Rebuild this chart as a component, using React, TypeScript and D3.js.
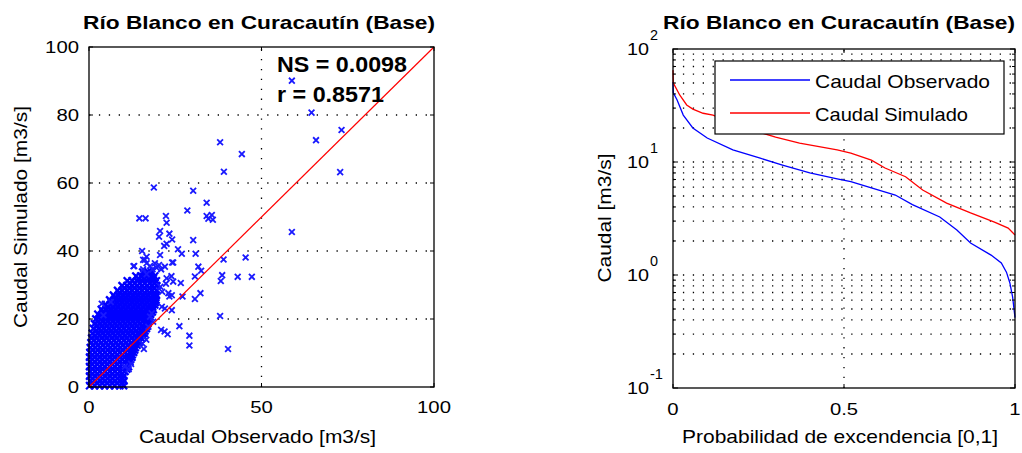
import React from "react";
import * as d3 from "d3";

const W = 1022;
const H = 453;

// ---------- text ----------
const titleText = "Río Blanco en Curacautín (Base)";
const nsText = "NS = 0.0098";
const rText = "r = 0.8571";
const leftXLabel = "Caudal Observado [m3/s]";
const leftYLabel = "Caudal Simulado [m3/s]";
const rightXLabel = "Probabilidad de excendencia [0,1]";
const rightYLabel = "Caudal [m3/s]";
const seriesNames = ["Caudal Observado", "Caudal Simulado"];

// ---------- ticks ----------
const leftXTicks = [0, 50, 100];
const leftYTicks = [0, 20, 40, 60, 80, 100];
const leftXGrid = [50];
const leftYGrid = [20, 40, 60, 80];
const rightXTicks = [0, 0.5, 1];
const rightXTickLabels = ["0", "0.5", "1"];
const rightYExp = [-1, 0, 1, 2];
const rightXGrid = [0.5];
const minorMult = [2, 3, 4, 5, 6, 7, 8, 9];
const decades = [0.1, 1, 10];

// ---------- scatter data (observed, simulated) ----------
// dense cloud, listed row by row: [simulated, observed values]
const scatterRows: [number, number[]][] = [
  [0.4, [0.2, 1.6, 3.1, 4.5, 6.0, 7.4, 8.9, 10.0]],
  [1.1, [0.9, 2.4, 3.8, 5.3, 6.7, 8.2, 9.6]],
  [1.8, [0.4, 1.8, 3.3, 4.7, 6.2, 7.6, 9.0, 10.1]],
  [2.5, [1.0, 2.5, 3.9, 5.4, 6.8, 8.3, 9.7]],
  [3.2, [0.2, 1.7, 3.1, 4.6, 6.0, 7.5, 8.9, 10.0]],
  [3.9, [0.9, 2.4, 3.8, 5.3, 6.7, 8.2, 9.6]],
  [4.6, [0.3, 1.8, 3.2, 4.7, 6.1, 7.6, 9.0, 10.4]],
  [5.3, [1.0, 2.5, 3.9, 5.4, 6.8, 8.3, 9.7, 10.9]],
  [6.0, [0.2, 1.6, 3.1, 4.5, 6.0, 7.4, 8.9, 10.3, 11.4]],
  [6.7, [0.9, 2.4, 3.8, 5.3, 6.7, 8.2, 9.6, 11.1]],
  [7.4, [0.3, 1.7, 3.2, 4.6, 6.1, 7.5, 9.0, 10.4, 11.8]],
  [8.1, [1.0, 2.5, 3.9, 5.4, 6.8, 8.3, 9.7, 11.1, 12.0]],
  [8.8, [0.2, 1.6, 3.1, 4.5, 6.0, 7.4, 8.9, 10.3, 11.7, 12.4]],
  [9.5, [0.9, 2.4, 3.8, 5.3, 6.7, 8.2, 9.6, 11.0, 12.5]],
  [10.2, [0.3, 1.8, 3.2, 4.7, 6.1, 7.6, 9.0, 10.5, 11.9, 12.9]],
  [10.9, [1.0, 2.5, 3.9, 5.4, 6.8, 8.3, 9.7, 11.2, 12.6, 13.2]],
  [11.6, [0.4, 1.9, 3.3, 4.8, 6.2, 7.7, 9.1, 10.6, 12.0, 13.4]],
  [12.3, [1.2, 2.6, 4.1, 5.5, 7.0, 8.4, 9.9, 11.3, 12.8, 13.9]],
  [13.0, [0.6, 2.0, 3.5, 4.9, 6.4, 7.8, 9.3, 10.7, 12.2, 13.6, 14.4]],
  [13.7, [1.4, 2.9, 4.3, 5.8, 7.2, 8.7, 10.1, 11.6, 13.0, 14.5]],
  [14.4, [0.8, 2.2, 3.7, 5.1, 6.6, 8.0, 9.5, 10.9, 12.4, 13.8, 15.1]],
  [15.1, [1.7, 3.1, 4.6, 6.0, 7.5, 8.9, 10.4, 11.8, 13.3, 14.7, 15.6]],
  [15.8, [1.0, 2.5, 3.9, 5.4, 6.8, 8.3, 9.7, 11.2, 12.6, 14.1, 15.5, 16.0]],
  [16.5, [2.0, 3.5, 4.9, 6.4, 7.8, 9.3, 10.7, 12.2, 13.6, 15.1, 16.2]],
  [17.2, [1.3, 2.8, 4.2, 5.7, 7.1, 8.6, 10.0, 11.5, 12.9, 14.4, 15.8, 16.6]],
  [17.9, [2.3, 3.8, 5.2, 6.7, 8.1, 9.6, 11.0, 12.5, 13.9, 15.4, 16.8]],
  [18.6, [1.6, 3.1, 4.5, 6.0, 7.4, 8.9, 10.3, 11.8, 13.2, 14.7, 16.1, 17.0]],
  [19.3, [2.7, 4.1, 5.6, 7.0, 8.5, 9.9, 11.4, 12.8, 14.3, 15.7, 17.1]],
  [20.0, [2.0, 3.4, 4.9, 6.3, 7.8, 9.2, 10.7, 12.1, 13.6, 15.0, 16.5, 17.4]],
  [20.7, [3.2, 4.7, 6.1, 7.6, 9.0, 10.5, 11.9, 13.4, 14.8, 16.3, 17.6]],
  [21.4, [2.6, 4.0, 5.5, 6.9, 8.4, 9.8, 11.3, 12.7, 14.2, 15.6, 17.1, 17.8]],
  [22.1, [4.1, 5.6, 7.0, 8.5, 9.9, 11.4, 12.8, 14.3, 15.7, 17.2, 18.3]],
  [22.8, [3.6, 5.0, 6.5, 7.9, 9.4, 10.8, 12.3, 13.7, 15.2, 16.6, 18.0, 18.6]],
  [23.5, [5.3, 6.8, 8.2, 9.7, 11.1, 12.6, 14.0, 15.5, 16.9, 18.4]],
  [24.2, [4.8, 6.2, 7.7, 9.1, 10.6, 12.0, 13.5, 14.9, 16.4, 17.8, 19.0]],
  [24.9, [6.5, 8.0, 9.4, 10.9, 12.3, 13.8, 15.2, 16.7, 18.1, 19.2]],
  [25.6, [6.0, 7.4, 8.9, 10.3, 11.8, 13.2, 14.7, 16.1, 17.6, 19.0, 19.4]],
  [26.3, [7.6, 9.1, 10.5, 12.0, 13.4, 14.9, 16.3, 17.8, 19.3]],
  [27.0, [7.1, 8.5, 10.0, 11.4, 12.9, 14.3, 15.8, 17.2, 18.7, 19.5]],
  [27.7, [8.8, 10.3, 11.7, 13.2, 14.6, 16.1, 17.5, 19.0]],
  [28.4, [8.3, 9.7, 11.2, 12.6, 14.1, 15.5, 17.0, 18.4, 19.6]],
  [29.1, [10.2, 11.7, 13.1, 14.6, 16.0, 17.5, 18.9]],
  [29.8, [9.6, 11.0, 12.5, 13.9, 15.4, 16.8, 18.3, 19.6]],
  [30.5, [11.9, 13.3, 14.8, 16.2, 17.7, 19.1]],
  [31.2, [11.1, 12.5, 14.0, 15.4, 16.9, 18.3, 19.5]],
  [31.9, [14.3, 15.8, 17.2, 18.6]],
  [32.6, [13.6, 15.0, 16.5, 17.9, 19.0]],
  [33.2, [16.3, 17.6]],
  [33.8, [15.6, 17.0, 18.1]],
];

const scatterOutliers: [number, number][] = [
  [58.8, 90.1], [64.5, 80.7], [73.2, 75.6], [65.8, 72.6], [38.0, 72.0], [44.3, 68.5],
  [39.1, 63.3], [72.8, 63.2], [18.8, 58.7], [30.2, 57.7], [34.1, 54.2], [28.5, 51.9],
  [34.1, 50.3], [35.6, 50.6], [35.9, 49.2], [34.6, 49.5], [14.6, 49.6], [16.4, 49.6],
  [22.3, 50.3], [22.5, 48.3], [20.6, 45.9], [20.3, 44.2], [23.3, 45.1], [24.1, 43.4],
  [22.5, 42.1], [21.8, 41.5], [30.2, 43.2], [25.8, 40.5], [26.9, 39.2], [15.4, 40.0],
  [16.7, 38.3], [30.9, 39.2], [20.6, 38.8], [39.0, 37.5], [45.4, 38.1], [24.4, 36.6],
  [31.7, 35.4], [32.5, 34.2], [38.6, 32.9], [38.2, 31.2], [43.1, 32.4], [47.2, 32.4],
  [30.7, 32.5], [26.6, 30.6], [27.1, 26.6], [32.3, 27.6], [30.7, 25.9], [23.3, 26.6],
  [24.0, 27.0], [38.0, 20.9], [58.8, 45.6], [26.2, 17.9], [20.9, 16.8], [21.9, 16.3],
  [22.8, 15.5], [29.1, 15.1], [29.1, 12.2], [40.3, 11.2], [15.9, 11.2], [15.5, 12.8],
  [16.6, 13.9], [3.7, 24.5], [6.3, 25.0], [4.2, 21.1], [12.9, 35.5], [15.7, 37.4],
  [16.7, 36.4], [17.7, 35.6], [18.4, 34.6], [19.6, 35.1], [20.9, 34.6], [22.0, 35.4],
  [20.3, 35.9], [22.5, 32.0], [23.9, 32.6], [24.4, 31.0], [22.3, 30.4], [15.7, 34.6],
  [16.7, 33.2], [13.1, 35.6], [16.2, 37.4], [19.1, 36.4], [24.1, 36.6], [18.2, 21.7],
  [17.7, 20.7], [18.6, 19.2], [17.2, 17.7], [21.1, 23.6], [22.0, 23.1], [24.0, 22.6],
  [23.0, 27.6], [10.4, 6.0], [11.5, 5.2], [12.2, 6.8], [20.7, 29.5], [21.2, 28.0],
];

// ---------- flow duration curves ----------
const obsProb = [0, 0.001, 0.012, 0.03, 0.058, 0.1, 0.175, 0.255, 0.32, 0.4, 0.48, 0.52, 0.58, 0.65, 0.7, 0.78, 0.83, 0.87, 0.93, 0.96, 0.975, 0.985, 0.993, 1.0];
const obsFlow = [51, 41, 35.4, 26, 20, 16.3, 12.8, 10.8, 9.4, 8.0, 7.1, 6.7, 5.9, 5.1, 4.2, 3.26, 2.5, 1.92, 1.5, 1.28, 1.06, 0.85, 0.64, 0.42];
const simProb = [0, 0.001, 0.02, 0.04, 0.058, 0.088, 0.117, 0.2, 0.3, 0.37, 0.48, 0.52, 0.58, 0.62, 0.68, 0.73, 0.8, 0.87, 0.94, 0.98, 1.0];
const simFlow = [65, 50, 39, 32, 29.4, 27, 26, 20.5, 16.6, 14.7, 12.8, 12, 10.4, 8.85, 7.4, 5.65, 4.33, 3.54, 2.94, 2.6, 2.26];

const FONT = "'Liberation Sans', Arial, Helvetica, sans-serif";

function Txt(props: {
  x: number; y: number; w?: number; size: number; bold?: boolean;
  anchor?: "start" | "middle" | "end"; rotate?: boolean; children: React.ReactNode;
}) {
  const { x, y, w, size, bold, anchor = "middle", rotate, children } = props;
  return (
    <text
      x={x}
      y={y}
      fontSize={size}
      fontWeight={bold ? "bold" : "normal"}
      textAnchor={anchor}
      fontFamily={FONT}
      fill="#000"
      textLength={w}
      lengthAdjust={w ? "spacingAndGlyphs" : undefined}
      transform={rotate ? `rotate(-90 ${x} ${y})` : undefined}
    >
      {children}
    </text>
  );
}

const digitW = (s: string) => {
  let w = 0;
  for (const c of s) w += c === "." ? 5.5 : c === "-" ? 6 : 11.3;
  return w;
};

const xMarker = (cx: number, cy: number, m: number) =>
  `M${cx - m},${cy - m}L${cx + m},${cy + m}M${cx - m},${cy + m}L${cx + m},${cy - m}`;

export default function App() {
  // left panel
  const L = { x0: 89, x1: 434, y0: 47, y1: 387 };
  const lx = d3.scaleLinear().domain([0, 100]).range([L.x0, L.x1]);
  const ly = d3.scaleLinear().domain([0, 100]).range([L.y1, L.y0]);

  // right panel
  const R = { x0: 673, x1: 1015, y0: 49, y1: 388 };
  const rx = d3.scaleLinear().domain([0, 1]).range([R.x0, R.x1]);
  const ry = d3.scaleLog().domain([0.1, 100]).range([R.y1, R.y0]);

  const cloud: [number, number][] = [];
  scatterRows.forEach(([yv, xs]) => xs.forEach((xv) => cloud.push([xv, yv])));

  const obsLine = d3.line<number>().x((_, i) => rx(obsProb[i])).y((d) => ry(d))(obsFlow) || "";
  const simLine = d3.line<number>().x((_, i) => rx(simProb[i])).y((d) => ry(d))(simFlow) || "";

  const minorVals: number[] = [];
  decades.forEach((d) => minorMult.forEach((m) => minorVals.push(d * m)));
  const majorVals = rightYExp.map((e) => Math.pow(10, e));

  const dash = "1.3,8.6";

  return (
    <svg
      width={W}
      height={H}
      viewBox={`0 0 ${W} ${H}`}
      style={{ position: "fixed", left: 0, top: 0, background: "#fff" }}
    >
      <rect x={0} y={0} width={W} height={H} fill="#fff" />

      {/* ================= LEFT PANEL ================= */}
      <rect x={L.x0} y={L.y0} width={L.x1 - L.x0} height={L.y1 - L.y0} fill="#fff" />
      {leftXGrid.map((v) => (
        <line key={"lxg" + v} x1={lx(v)} x2={lx(v)} y1={L.y1} y2={L.y0} stroke="#000" strokeWidth={1.3} strokeDasharray={dash} />
      ))}
      {leftYGrid.map((v) => (
        <line key={"lyg" + v} x1={L.x0} x2={L.x1} y1={ly(v)} y2={ly(v)} stroke="#000" strokeWidth={1.3} strokeDasharray={dash} />
      ))}
      <g stroke="#0000ff" strokeWidth={2.3} strokeLinecap="square">
        {cloud.map(([xv, yv], i) => (
          <path key={"c" + i} d={xMarker(lx(xv), ly(yv), 2.8)} />
        ))}
      </g>
      <g stroke="#1a1aff" strokeWidth={1.8}>
        {scatterOutliers.map(([xv, yv], i) => (
          <path key={"o" + i} d={xMarker(lx(xv), ly(yv), 2.9)} />
        ))}
      </g>
      <line x1={lx(0)} y1={ly(0)} x2={lx(100)} y2={ly(100)} stroke="#ff0000" strokeWidth={1.2} />
      {/* ticks */}
      {leftXTicks.map((v) => (
        <g key={"lxt" + v}>
          <line x1={lx(v)} x2={lx(v)} y1={L.y1} y2={L.y1 - 4} stroke="#000" />
          <line x1={lx(v)} x2={lx(v)} y1={L.y0} y2={L.y0 + 4} stroke="#000" />
          <Txt x={lx(v)} y={413} size={16} w={digitW(String(v))}>{String(v)}</Txt>
        </g>
      ))}
      {leftYTicks.map((v) => (
        <g key={"lyt" + v}>
          <line x1={L.x0} x2={L.x0 + 4} y1={ly(v)} y2={ly(v)} stroke="#000" />
          <line x1={L.x1} x2={L.x1 - 4} y1={ly(v)} y2={ly(v)} stroke="#000" />
          <Txt x={79} y={ly(v) + 6} size={16} anchor="end" w={digitW(String(v))}>{String(v)}</Txt>
        </g>
      ))}
      <rect x={L.x0} y={L.y0} width={L.x1 - L.x0} height={L.y1 - L.y0} fill="none" stroke="#000" strokeWidth={1.3} />
      <Txt x={277} y={72} size={22} bold anchor="start" w={130}>{nsText}</Txt>
      <Txt x={277} y={102} size={22} bold anchor="start" w={107}>{rText}</Txt>
      <Txt x={259} y={28.5} size={18.5} bold w={352}>{titleText}</Txt>
      <Txt x={257.5} y={442.5} size={19} w={237}>{leftXLabel}</Txt>
      <Txt x={27} y={217} size={19} w={222} rotate>{leftYLabel}</Txt>

      {/* ================= RIGHT PANEL ================= */}
      <rect x={R.x0} y={R.y0} width={R.x1 - R.x0} height={R.y1 - R.y0} fill="#fff" />
      {minorVals.map((v) => (
        <line key={"rmg" + v} x1={R.x0} x2={R.x1} y1={ry(v)} y2={ry(v)} stroke="#000" strokeWidth={1.3} strokeDasharray={dash} />
      ))}
      {majorVals.slice(1, 3).map((v) => (
        <line key={"rMg" + v} x1={R.x0} x2={R.x1} y1={ry(v)} y2={ry(v)} stroke="#000" strokeWidth={1.3} strokeDasharray={dash} />
      ))}
      {rightXGrid.map((v) => (
        <line key={"rxg" + v} x1={rx(v)} x2={rx(v)} y1={R.y1} y2={R.y0} stroke="#000" strokeWidth={1.3} strokeDasharray={dash} />
      ))}
      <path d={obsLine} fill="none" stroke="#0000ff" strokeWidth={1.3} />
      <path d={simLine} fill="none" stroke="#ff0000" strokeWidth={1.3} />
      {/* ticks */}
      {rightXTicks.map((v, i) => (
        <g key={"rxt" + v}>
          <line x1={rx(v)} x2={rx(v)} y1={R.y1} y2={R.y1 - 4} stroke="#000" />
          <line x1={rx(v)} x2={rx(v)} y1={R.y0} y2={R.y0 + 4} stroke="#000" />
          <Txt x={rx(v)} y={415} size={16} w={digitW(rightXTickLabels[i])}>{rightXTickLabels[i]}</Txt>
        </g>
      ))}
      {minorVals.map((v) => (
        <g key={"rmt" + v}>
          <line x1={R.x0} x2={R.x0 + 3} y1={ry(v)} y2={ry(v)} stroke="#000" />
          <line x1={R.x1} x2={R.x1 - 3} y1={ry(v)} y2={ry(v)} stroke="#000" />
        </g>
      ))}
      {rightYExp.map((e) => {
        const yy = ry(Math.pow(10, e));
        const sup = String(e);
        return (
          <g key={"ryt" + e}>
            <line x1={R.x0} x2={R.x0 + 5} y1={yy} y2={yy} stroke="#000" />
            <line x1={R.x1} x2={R.x1 - 5} y1={yy} y2={yy} stroke="#000" />
            <Txt x={649} y={yy + 5.5} size={16} anchor="end" w={22}>10</Txt>
            <Txt x={650} y={yy - 9} size={15} anchor="start" w={e < 0 ? 13 : 8}>{sup}</Txt>
          </g>
        );
      })}
      <rect x={R.x0} y={R.y0} width={R.x1 - R.x0} height={R.y1 - R.y0} fill="none" stroke="#000" strokeWidth={1.3} />
      {/* legend */}
      <rect x={715} y={61} width={289} height={73} fill="#fff" stroke="#000" strokeWidth={1.2} />
      <line x1={730} x2={810} y1={80} y2={80} stroke="#0000ff" strokeWidth={1.3} />
      <line x1={730} x2={810} y1={113} y2={113} stroke="#ff0000" strokeWidth={1.3} />
      <Txt x={815} y={87.5} size={19} anchor="start" w={175}>{seriesNames[0]}</Txt>
      <Txt x={815} y={120.5} size={19} anchor="start" w={153}>{seriesNames[1]}</Txt>
      <Txt x={839} y={28.5} size={18.5} bold w={352}>{titleText}</Txt>
      <Txt x={840} y={442.5} size={19} w={316}>{rightXLabel}</Txt>
      <Txt x={611} y={218} size={19} w={129} rotate>{rightYLabel}</Txt>
    </svg>
  );
}
